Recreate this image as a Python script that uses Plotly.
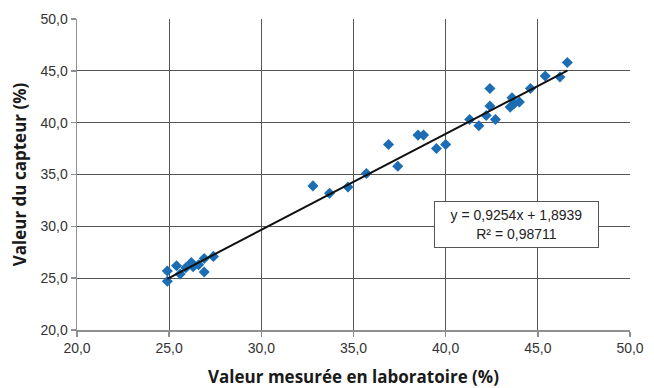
import plotly.graph_objects as go

lab_values = [24.9, 24.9, 25.4, 25.6, 25.9, 26.2, 26.3, 26.6, 26.9, 26.9, 27.4,
              32.8, 33.7, 34.7, 35.7, 36.9, 37.4, 38.5, 38.8, 39.5, 40.0,
              41.3, 41.8, 42.2, 42.4, 42.4, 42.7, 43.5, 43.6, 43.7, 44.0,
              44.6, 45.4, 46.2, 46.6]
sensor_values = [24.7, 25.7, 26.2, 25.4, 26.0, 26.5, 26.1, 26.3, 26.9, 25.6, 27.1,
                 33.9, 33.2, 33.8, 35.1, 37.9, 35.8, 38.8, 38.8, 37.5, 37.9,
                 40.3, 39.7, 40.7, 43.3, 41.6, 40.3, 41.5, 42.4, 41.8, 42.0,
                 43.3, 44.5, 44.4, 45.8]

slope = 0.9254
intercept = 1.8939
r2_text = "0,98711"
tick_vals = [20, 25, 30, 35, 40, 45, 50]
tick_text = ["20,0", "25,0", "30,0", "35,0", "40,0", "45,0", "50,0"]

x_line = [min(lab_values), max(lab_values)]
y_line = [slope * v + intercept for v in x_line]

fig = go.Figure()
fig.add_trace(go.Scatter(
    x=lab_values, y=sensor_values, mode="markers",
    marker=dict(symbol="diamond", size=8.5, color="#1c6db3"),
    showlegend=False, hoverinfo="skip"))
fig.add_trace(go.Scatter(
    x=x_line, y=y_line, mode="lines",
    line=dict(color="#111111", width=2),
    showlegend=False, hoverinfo="skip"))

font_main = "Liberation Sans, Arial, sans-serif"
font_title = "Open Sans, Liberation Sans, Arial, sans-serif"
axis_common = dict(
    range=[20, 50], tickvals=tick_vals, ticktext=tick_text,
    showgrid=True, gridcolor="#555555", gridwidth=1,
    showline=True, linecolor="#8f8f8f", linewidth=1.5,
    ticks="outside", ticklen=5, tickcolor="#8f8f8f", tickwidth=1.5,
    zeroline=False, tickfont=dict(family=font_main, size=14, color="#333333"),
    fixedrange=True, automargin=False,
)
fig.update_xaxes(**axis_common,
                 title=dict(text="<b>Valeur mesurée en laboratoire (%)</b>",
                            font=dict(family=font_title, size=17, color="#1a1a1a"),
                            standoff=16))
fig.update_yaxes(**axis_common,
                 title=dict(text="<b>Valeur du capteur (%)</b>",
                            font=dict(family=font_title, size=17, color="#1a1a1a"),
                            standoff=9))

fig.add_annotation(
    x=43.85, y=30.17, xref="x", yref="y", showarrow=False,
    text=f"y = {str(slope).replace('.', ',')}x + {str(intercept).replace('.', ',')}<br>R² = {r2_text}",
    font=dict(family=font_main, size=14, color="#222222"),
    bgcolor="white", bordercolor="#555555", borderwidth=1, borderpad=2,
    width=159, height=41, align="center")

fig.update_layout(
    width=654, height=388,
    margin=dict(l=77, r=24, t=19, b=58, autoexpand=False),
    plot_bgcolor="white", paper_bgcolor="white",
)
fig.write_html("out.html",
               config={"displayModeBar": False, "staticPlot": True},
               post_script="document.body.style.margin='0';document.body.style.padding='0';")
